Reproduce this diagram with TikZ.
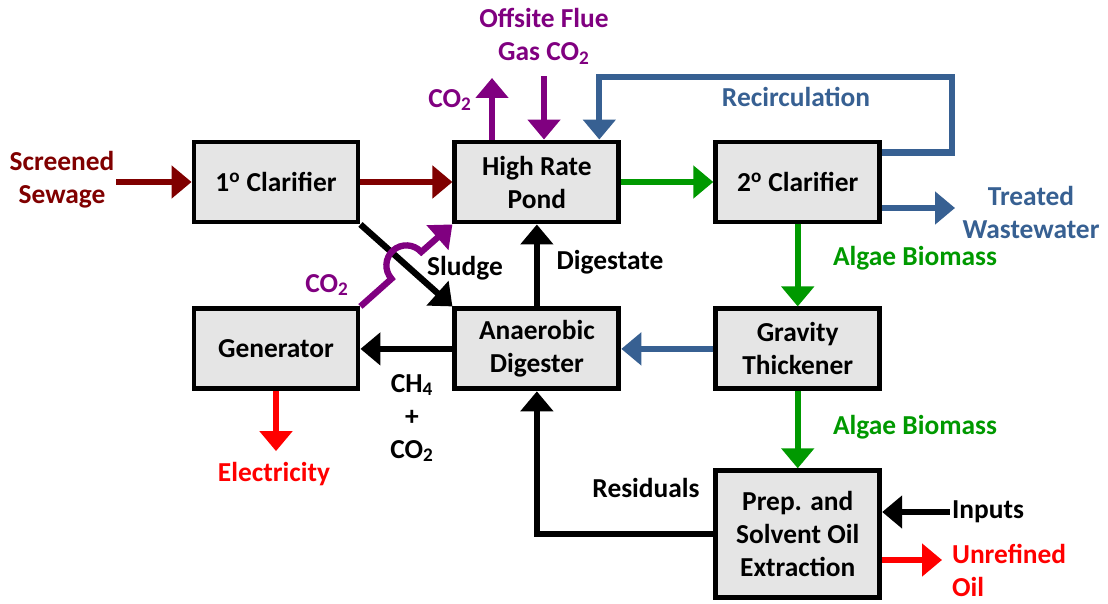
\documentclass[tikz,border=0pt]{standalone}
\usepackage{fontspec}
\setmainfont{Carlito}
\usepackage{xcolor}
\usetikzlibrary{arrows.meta, positioning, calc}

\definecolor{sewred}{RGB}{128,0,0}
\definecolor{gaspurple}{RGB}{128,0,128}
\definecolor{algaegreen}{RGB}{0,153,0}
\definecolor{waterblue}{RGB}{55,96,146}
\definecolor{powerred}{RGB}{255,0,0}

\begin{document}
\begin{tikzpicture}[x=0.02cm, y=0.02cm, node distance=1.64cm and 1.84cm]
  \tikzset{
    unit/.style={rectangle, draw=black, line width=2.8pt, fill=gray!20,
                 minimum width=3.28cm, minimum height=1.6cm,
                 align=center, font=\fontsize{15.6}{18.8}\selectfont\bfseries},
    lbl/.style={align=center, inner sep=1pt,
                font=\fontsize{15.6}{18.8}\selectfont\bfseries},
    flow/.style={-{Triangle[length=0.4cm, width=0.64cm]}, line width=3.6pt}
  }
  \useasboundingbox (0,0) rectangle (1108,603);
  % process units
  \node[unit] (clar1) at (276,421) {1\textsuperscript{o} Clarifier};
  \node[unit, right=of clar1] (hrp)   {High Rate\\Pond};
  \node[unit, right=of hrp]   (clar2) {2\textsuperscript{o} Clarifier};
  \node[unit, below=of clar1] (gen)   {Generator};
  \node[unit, below=of hrp]   (ad)    {Anaerobic\\Digester};
  \node[unit, below=of clar2] (grav)  {Gravity\\Thickener};
  \node[unit, below=1.54cm of grav, minimum height=2.54cm] (prep)
       {Prep. and\\Solvent Oil\\Extraction};
  % labels
  \node[lbl, sewred]     (sewage) at (62,423)   {Screened\\Sewage};
  \node[lbl, gaspurple]  (flue)   at (544,567)  {Offsite Flue\\Gas CO\textsubscript{2}};
  \node[lbl, gaspurple]  (co2out) at (450,503)  {CO\textsubscript{2}};
  \node[lbl, gaspurple]  (co2in)  at (327,318)  {CO\textsubscript{2}};
  \node[lbl, waterblue]  (recirc) at (796,506)  {Recirculation};
  \node[lbl, waterblue]  (treated) at (1031,391) {Treated\\Wastewater};
  \node[lbl, algaegreen] (alg1)   at (915,345)  {Algae Biomass};
  \node[lbl, algaegreen] (alg2)   at (915,176)  {Algae Biomass};
  \node[lbl]             (sludge) at (465,335)  {Sludge};
  \node[lbl]             (dig)    at (610,341)  {Digestate};
  \node[lbl]             (chco)   at (412,185)  {CH\textsubscript{4}\\+\\CO\textsubscript{2}};
  \node[lbl, powerred]   (elec)   at (274,129)  {Electricity};
  \node[lbl]             (resid)  at (646,115)  {Residuals};
  \node[lbl]             (inputs) at (988,91)   {Inputs};
  \node[lbl, powerred, anchor=west, align=left] (oil) at (950,33) {Unrefined\\Oil};
  \coordinate (co2top) at (492,525);
  \coordinate (recTR)  at (952,526);
  \coordinate (twend)  at (955,395);
  \coordinate (oilend) at (942,43);
  \coordinate (hop) at ($(gen.north east)!0.5!(hrp.south west)$);
  % flows
  \draw[flow, sewred] (sewage.east |- clar1.west) -- (clar1.west);
  \draw[flow, sewred] (clar1) -- (hrp);
  \draw[flow, algaegreen] (hrp) -- (clar2);
  \draw[flow, algaegreen] (clar2) -- (grav);
  \draw[flow, algaegreen] (grav) -- (prep);
  \draw[flow, waterblue] (grav) -- (ad);
  \draw[flow, waterblue] (clar2.east |- twend) -- (twend);
  \draw[flow, waterblue] ([yshift=-0.26cm]clar2.north east) -| (recTR)
                         -| ([xshift=-0.44cm]hrp.north east);
  \draw[flow, gaspurple] ([yshift=-0.2cm]flue.south) -- (flue.south |- hrp.north);
  \draw[flow, gaspurple] (co2top |- hrp.north) -- (co2top);
  \draw[flow] (ad) -- (gen);
  \draw[flow] (ad) -- (hrp);
  \draw[flow] (clar1.south east) -- (ad.north west);
  \draw[flow, gaspurple] (gen.north east) -- ($(hop)!0.4cm!(gen.north east)$)
        arc[start angle=222, end angle=42, radius=0.4cm] -- (hrp.south west);
  \draw[flow, powerred] (gen.south) -- ($(gen.south |- elec.north)+(0,9)$);
  \draw[flow] (prep.west) -| (ad.south);
  \draw[flow] (inputs.west) -- (inputs.west -| prep.east);
  \draw[flow, powerred] (oilend -| prep.east) -- (oilend);
\end{tikzpicture}
\end{document}
